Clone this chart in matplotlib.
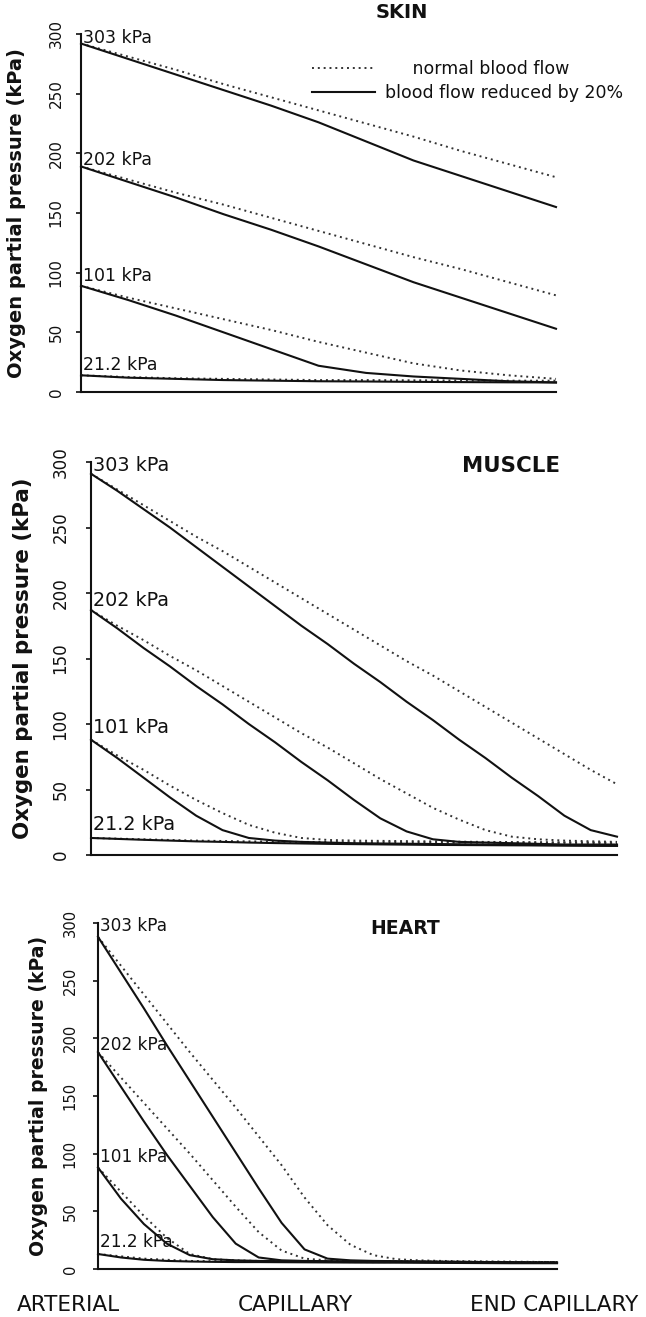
import matplotlib
matplotlib.use('Agg')
import matplotlib.pyplot as plt

###############################################################################
# data (oxygen partial pressure, kPa)
# x runs from arterial end (0) to end capillary (1)
inlet_labels = ['303 kPa', '202 kPa', '101 kPa', '21.2 kPa']
inlet_label_y = [297, 194, 97, 23]
yticks = [0, 50, 100, 150, 200, 250, 300]
x_labels = ['ARTERIAL', 'CAPILLARY', 'END CAPILLARY']

skin_x = [0, .1, .2, .3, .4, .5, .6, .7, .8, .9, 1.0]
skin_normal_303 = [292, 281, 270, 258, 247, 236, 225, 214, 202, 191, 180]
skin_reduced_303 = [292, 279, 266, 253, 240, 226, 210, 194, 181, 168, 155]
skin_normal_202 = [189, 178, 167, 157, 146, 135, 124, 113, 103, 92, 81]
skin_reduced_202 = [189, 176, 163, 149, 136, 122, 107, 92, 79, 66, 53]
skin_normal_101 = [89, 79, 70, 61, 52, 42, 33, 24, 18, 14, 11]
skin_reduced_101 = [89, 77, 64, 50, 36, 22, 16, 13, 11, 9, 8]
skin_normal_21 = [14, 12.5, 11.5, 11, 10.5, 10, 10, 9.8, 9.6, 9.5, 9.5]
skin_reduced_21 = [14, 12, 11, 10, 9.5, 9, 8.8, 8.5, 8.3, 8.1, 8]

muscle_x = [0, .05, .1, .15, .2, .25, .3, .35, .4, .45, .5,
            .55, .6, .65, .7, .75, .8, .85, .9, .95, 1.0]
muscle_normal_303 = [291, 279, 267, 255, 243, 232, 220, 208, 196, 184, 172,
                     160, 148, 137, 125, 113, 101, 89, 77, 65, 54]
muscle_reduced_303 = [291, 278, 264, 250, 235, 220, 205, 190, 175, 161, 146,
                      132, 117, 103, 88, 74, 59, 45, 30, 19, 14]
muscle_normal_202 = [187, 175, 164, 152, 141, 129, 117, 105, 93, 82, 70,
                     58, 47, 36, 27, 19, 14, 12, 11, 10.5, 10]
muscle_reduced_202 = [187, 173, 158, 144, 129, 115, 100, 86, 71, 57, 42,
                      28, 18, 12, 10, 9.5, 9, 8.5, 8, 8, 8]
muscle_normal_101 = [88, 76, 65, 53, 42, 32, 23, 17, 13, 11.5, 11,
                     10.8, 10.6, 10.4, 10.2, 10, 9.9, 9.8, 9.7, 9.6, 9.5]
muscle_reduced_101 = [88, 74, 59, 44, 30, 19, 13, 11, 10, 9.5, 9,
                      8.8, 8.6, 8.4, 8.2, 8, 7.8, 7.6, 7.4, 7.2, 7]
muscle_normal_21 = [13, 12.5, 12, 11.5, 11, 10.7, 10.4, 10.2, 10, 9.9, 9.8,
                    9.7, 9.6, 9.5, 9.5, 9.4, 9.4, 9.3, 9.3, 9.2, 9.2]
muscle_reduced_21 = [13, 12.3, 11.6, 11, 10.4, 10, 9.5, 9.1, 8.8, 8.5, 8.3,
                     8.1, 7.9, 7.7, 7.6, 7.5, 7.4, 7.3, 7.2, 7.1, 7]

heart_x = muscle_x
heart_normal_303 = [288, 263, 238, 213, 188, 164, 140, 115, 90, 62, 38,
                    21, 12, 8.5, 7.5, 7, 6.8, 6.6, 6.4, 6.2, 6]
heart_reduced_303 = [288, 257, 226, 194, 163, 132, 101, 70, 40, 17, 9,
                     7.5, 7, 6.8, 6.6, 6.4, 6.2, 6, 5.8, 5.6, 5.5]
heart_normal_202 = [188, 166, 144, 122, 100, 77, 54, 32, 16, 9, 7.5,
                    7, 6.8, 6.6, 6.5, 6.4, 6.3, 6.2, 6.1, 6, 6]
heart_reduced_202 = [188, 158, 128, 99, 72, 45, 22, 10, 7.5, 7, 6.8,
                     6.6, 6.4, 6.3, 6.2, 6, 5.9, 5.8, 5.7, 5.6, 5.5]
heart_normal_101 = [88, 67, 46, 27, 13, 8.5, 7.5, 7, 6.9, 6.8, 6.7,
                    6.6, 6.5, 6.4, 6.3, 6.2, 6.1, 6, 6, 6, 6]
heart_reduced_101 = [88, 61, 39, 22, 12, 8.5, 7.5, 7, 6.8, 6.6, 6.4,
                     6.3, 6.2, 6.1, 6, 5.9, 5.8, 5.7, 5.6, 5.5, 5.5]
heart_normal_21 = [13, 11, 9, 8, 7, 6.8, 6.5, 6.4, 6.3, 6.2, 6.1,
                   6, 6, 6, 6, 6, 6, 6, 6, 6, 6]
heart_reduced_21 = [13, 10, 8, 7, 6.5, 6.2, 6, 6, 5.9, 5.8, 5.7,
                    5.6, 5.5, 5.5, 5.4, 5.3, 5.2, 5.1, 5, 5, 5]

###############################################################################

W, H = 646, 1317
fig = plt.figure(figsize=(W / 100, H / 100), dpi=100)
plt.rcParams['font.family'] = 'DejaVu Sans'
ink = '#111111'

# panel boxes in pixels: left, right, y of 300 kPa, y of 0 kPa
panels = [
    {'name': 'SKIN', 'box': (81, 556, 34, 392), 'scale': 1.0,
     'x': skin_x,
     'normal': [skin_normal_303, skin_normal_202, skin_normal_101, skin_normal_21],
     'reduced': [skin_reduced_303, skin_reduced_202, skin_reduced_101, skin_reduced_21],
     'title_xy': (402, 12), 'ylabel_x': 17, 'tickpad': 9},
    {'name': 'MUSCLE', 'box': (91, 617, 462, 855), 'scale': 1.1,
     'x': muscle_x,
     'normal': [muscle_normal_303, muscle_normal_202, muscle_normal_101, muscle_normal_21],
     'reduced': [muscle_reduced_303, muscle_reduced_202, muscle_reduced_101, muscle_reduced_21],
     'title_xy': (511, 466), 'ylabel_x': 23, 'tickpad': 12},
    {'name': 'HEART', 'box': (98, 557, 923, 1269), 'scale': 0.97,
     'x': heart_x,
     'normal': [heart_normal_303, heart_normal_202, heart_normal_101, heart_normal_21],
     'reduced': [heart_reduced_303, heart_reduced_202, heart_reduced_101, heart_reduced_21],
     'title_xy': (405, 928), 'ylabel_x': 39, 'tickpad': 11},
]

axes = []
for p in panels:
    left, right, top, bottom = p['box']
    s = p['scale']
    ax = fig.add_axes([left / W, 1 - bottom / H, (right - left) / W, (bottom - top) / H])
    axes.append(ax)

    dotted_lines = []
    solid_lines = []
    for yn, yr in zip(p['normal'], p['reduced']):
        ln, = ax.plot(p['x'], yn, color='#333333', lw=1.4, ls=(0, (1, 2)),
                      clip_on=False, zorder=3)
        lr, = ax.plot(p['x'], yr, color=ink, lw=1.5, clip_on=False, zorder=4)
        dotted_lines.append(ln)
        solid_lines.append(lr)

    for lbl, ly in zip(inlet_labels, inlet_label_y):
        ax.annotate(lbl, xy=(0, ly), xytext=(1.5, 0), textcoords='offset points',
                    ha='left', va='center', fontsize=12.5 * s, color=ink)

    ax.set_xlim(0, 1)
    ax.set_ylim(0, 300)
    ax.set_yticks(yticks)
    ax.set_yticklabels([str(t) for t in yticks], rotation=90, va='center',
                       fontsize=11 * s, color=ink)
    ax.set_xticks([])
    ax.tick_params(axis='y', direction='out', length=3.5, width=1.2,
                   pad=p['tickpad'], colors=ink)
    for side in ['top', 'right']:
        ax.spines[side].set_visible(False)
    for side in ['left', 'bottom']:
        ax.spines[side].set_linewidth(1.5)
        ax.spines[side].set_color(ink)

    ax.set_ylabel('Oxygen partial pressure (kPa)', fontsize=14 * s,
                  fontweight='bold', color=ink, va='center')
    ax.yaxis.set_label_coords((p['ylabel_x'] - left) / (right - left), 0.5)

    tx, ty = p['title_xy']
    ax.text((tx - left) / (right - left), (bottom - ty) / (bottom - top), p['name'],
            transform=ax.transAxes, ha='center', va='center',
            fontsize=14 * s, fontweight='bold', color=ink)

    if p['name'] == 'SKIN':
        ax.legend([dotted_lines[0], solid_lines[0]],
                  ['     normal blood flow', 'blood flow reduced by 20%'],
                  loc='center left', bbox_to_anchor=((312 - left) / (right - left), (bottom - 81) / (bottom - top)),
                  frameon=False, fontsize=12.5, handlelength=3.6, handletextpad=0.6,
                  labelspacing=0.35, borderpad=0, borderaxespad=0, labelcolor=ink)

# x-axis position labels under the heart panel
ax = axes[-1]
left, right, top, bottom = panels[-1]['box']
for lbl, cx in zip(x_labels, [68, 295, 554]):
    ax.text((cx - left) / (right - left), (bottom - 1305) / (bottom - top), lbl,
            transform=ax.transAxes, ha='center', va='center', fontsize=15.5, color=ink)

plt.savefig('out.png', dpi=100)
